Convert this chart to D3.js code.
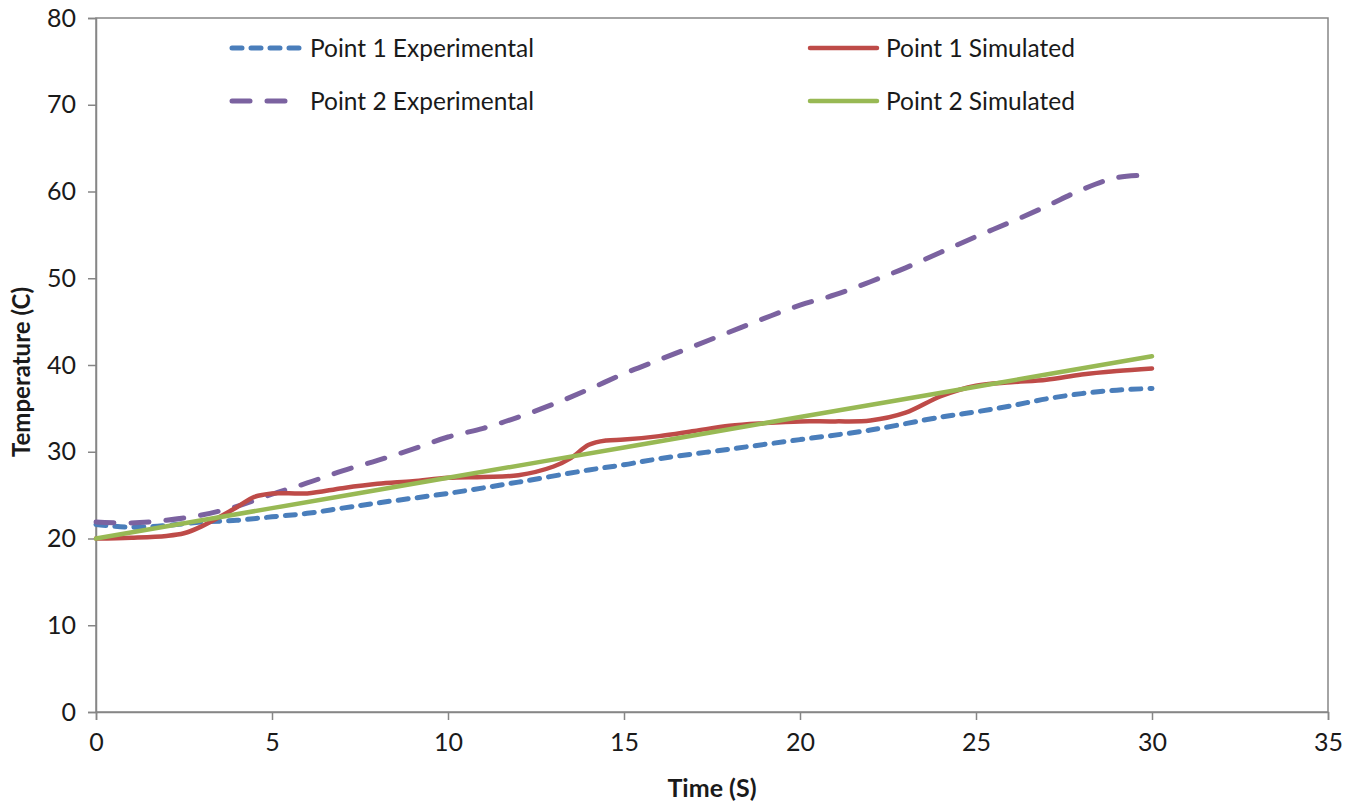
<!DOCTYPE html>
<html>
<head>
<meta charset="utf-8">
<script src="https://cdn.jsdelivr.net/npm/d3@7"></script>
<style>
  html, body { margin: 0; padding: 0; background: #fff; }
  text { font-family: Lato, "Open Sans", sans-serif; fill: #1a1a1a; }
</style>
</head>
<body>
<svg id="chart" width="1349" height="802"></svg>
<script>
// ---- data ----
const p1ExpTime = [0,1,2,3,4,5,6,7,8,10,12,14,15,16,18,20,22,24,25,26,27,28,29,30];
const p1ExpTemp = [21.6,21.3,21.5,21.9,22.1,22.5,22.9,23.5,24.1,25.2,26.5,27.9,28.5,29.2,30.3,31.4,32.5,34.0,34.6,35.3,36.1,36.7,37.1,37.3];

const p1SimTime = [0,1,2,2.5,3,4,4.5,5,6,7,8,9,10,11,12,13,13.5,14,14.5,15,16,17,18,19,20,21,22,23,24,25,26,27,28,29,30];
const p1SimTemp = [20,20.1,20.3,20.6,21.4,23.6,24.8,25.2,25.2,25.8,26.3,26.6,27.0,27.1,27.3,28.3,29.3,30.8,31.3,31.4,31.8,32.4,33.0,33.3,33.5,33.5,33.6,34.5,36.4,37.6,38.0,38.3,38.9,39.3,39.6];

const p2ExpTime = [0,1,2,3,4,5,6,7,8,9,10,11,12,13,14,15,16,17,18,19,20,21,22,23,24,25,26,27,28,29,30];
const p2ExpTemp = [21.9,21.8,22.1,22.7,23.7,25.1,26.4,27.8,29.0,30.3,31.7,32.7,34.0,35.5,37.2,39.0,40.6,42.2,43.8,45.4,46.9,48.1,49.6,51.2,53.0,54.8,56.5,58.3,60.2,61.6,61.9];

const p2SimTime = [0,5,10,15,20,25,30];
const p2SimTemp = [20,23.5,27,30.5,34,37.5,41];

const xTicks = [0,5,10,15,20,25,30,35];
const yTicks = [0,10,20,30,40,50,60,70,80];

const seriesNames = ["Point 1 Experimental","Point 1 Simulated","Point 2 Experimental","Point 2 Simulated"];

// ---- styles ----
const styles = {
  "Point 1 Experimental": {color:"#4a7ebb", width:5, dash:"10 9"},
  "Point 1 Simulated":    {color:"#be4b48", width:4.5, dash:null},
  "Point 2 Experimental": {color:"#7b62a0", width:5, dash:"18 17"},
  "Point 2 Simulated":    {color:"#98b954", width:4.5, dash:null}
};

const svg = d3.select("#chart");
const mLeft = 96, mRight = 1328, mTop = 18, mBottom = 712;

const x = d3.scaleLinear().domain([0,35]).range([mLeft,mRight]);
const y = d3.scaleLinear().domain([0,80]).range([mBottom,mTop]);

const axisColor = "#868686";

// frame
svg.append("rect").attr("x",mLeft).attr("y",mTop).attr("width",mRight-mLeft).attr("height",mBottom-mTop)
  .attr("fill","none").attr("stroke",axisColor).attr("stroke-width",1.5);

// x axis
const xAxis = svg.append("g").attr("transform",`translate(0,${mBottom})`)
  .call(d3.axisBottom(x).tickValues(xTicks).tickSize(8).tickPadding(13).tickFormat(d3.format("d")));
// y axis
const yAxis = svg.append("g").attr("transform",`translate(${mLeft},0)`)
  .call(d3.axisLeft(y).tickValues(yTicks).tickSize(8).tickPadding(12).tickFormat(d3.format("d")));

[xAxis,yAxis].forEach(g=>{
  g.select(".domain").attr("stroke",axisColor).attr("stroke-width",1.5);
  g.selectAll(".tick line").attr("stroke",axisColor).attr("stroke-width",1.5);
  g.selectAll(".tick text").attr("font-size",25).attr("font-family","Lato, 'Open Sans', sans-serif").attr("fill","#1a1a1a");
});

// axis titles
svg.append("text").attr("x",(mLeft+mRight)/2).attr("y",797).attr("text-anchor","middle")
  .attr("font-size",25).attr("font-weight","bold").text("Time (S)");
svg.append("text").attr("transform",`translate(30,${(mTop+mBottom)/2 + 7}) rotate(-90)`).attr("text-anchor","middle")
  .attr("font-size",24).attr("font-weight","bold").text("Temperature (C)");

// lines
const line = d3.line().x(d=>x(d[0])).y(d=>y(d[1])).curve(d3.curveCatmullRom.alpha(0.5));
const data = {
  "Point 1 Experimental": d3.zip(p1ExpTime,p1ExpTemp),
  "Point 1 Simulated": d3.zip(p1SimTime,p1SimTemp),
  "Point 2 Experimental": d3.zip(p2ExpTime,p2ExpTemp),
  "Point 2 Simulated": d3.zip(p2SimTime,p2SimTemp)
};
const drawOrder = ["Point 1 Experimental","Point 2 Experimental","Point 1 Simulated","Point 2 Simulated"];
drawOrder.forEach(name=>{
  const s = styles[name];
  svg.append("path").datum(data[name]).attr("d",line)
    .attr("fill","none").attr("stroke",s.color).attr("stroke-width",s.width)
    .attr("stroke-linecap","round").attr("stroke-linejoin","round")
    .attr("stroke-dasharray",s.dash);
});

// legend
const legendPos = {
  "Point 1 Experimental": {x0:232, x1:302, tx:310, y:48},
  "Point 2 Experimental": {x0:232, x1:302, tx:310, y:101},
  "Point 1 Simulated":    {x0:810, x1:877, tx:886, y:48},
  "Point 2 Simulated":    {x0:810, x1:877, tx:886, y:101}
};
seriesNames.forEach(name=>{
  const p = legendPos[name], s = styles[name];
  svg.append("line").attr("x1",p.x0).attr("x2",p.x1).attr("y1",p.y).attr("y2",p.y)
    .attr("stroke",s.color).attr("stroke-width",s.width).attr("stroke-linecap","round")
    .attr("stroke-dasharray",s.dash);
  svg.append("text").attr("x",p.tx).attr("y",p.y).attr("dy","0.35em")
    .attr("font-size",24.5).text(name);
});
</script>
</body>
</html>
